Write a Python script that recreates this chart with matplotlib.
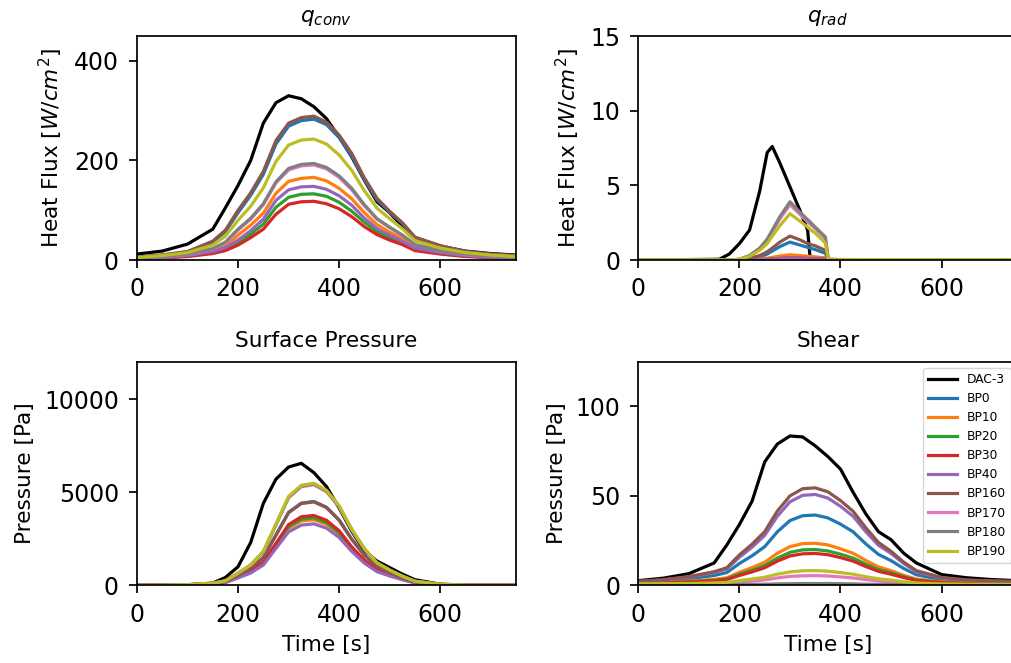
import numpy as np
import matplotlib
matplotlib.use("Agg")
from matplotlib import pyplot as plt

# time grid shared by q_conv, pressure and shear
time = [0, 50, 100, 150, 175, 200, 225, 250, 275, 300, 325, 350,
        375, 400, 425, 450, 475, 500, 525, 550, 600, 650, 700, 750]
# q_rad has sharp cut-offs, so it gets its own grid
time_rad = [0, 160, 180, 200, 220, 240, 255, 265, 280, 300, 320, 335,
            340, 350, 370, 376, 400, 750]

names = ["DAC-3", "BP0", "BP10", "BP20", "BP30", "BP40",
         "BP160", "BP170", "BP180", "BP190"]

# convective heat flux [W/cm^2]
q_conv = {
    "DAC-3": [12, 18, 32, 62, 105, 150, 200, 275, 316, 330, 324, 308,
              284, 247, 207, 160, 117, 95, 68, 45, 28, 18, 13, 10],
    "BP0": [6, 10, 17, 36, 57, 95, 130, 172, 233, 269, 280, 283,
            272, 246, 209, 161, 121, 96, 74, 45, 28, 17, 11, 8],
    "BP10": [3, 6, 10, 19, 28, 50, 70, 94, 134, 158, 164, 166,
             159, 144, 123, 95, 71, 56, 43, 27, 17, 10, 7, 5],
    "BP20": [3, 5, 8, 15, 22, 34, 52, 72, 106, 126, 132, 133,
             128, 116, 98, 76, 57, 45, 35, 21, 13, 8, 5, 4],
    "BP30": [2, 4, 7, 13, 19, 30, 45, 62, 92, 112, 117, 118,
             113, 103, 87, 67, 51, 40, 31, 19, 12, 7, 5, 4],
    "BP40": [3, 5, 9, 17, 25, 40, 59, 82, 120, 141, 147, 148,
             142, 129, 110, 84, 63, 50, 38, 24, 15, 9, 6, 4],
    "BP160": [6, 10, 17, 38, 60, 100, 135, 178, 240, 275, 286, 289,
              277, 251, 214, 165, 124, 98, 75, 46, 29, 17, 12, 9],
    "BP170": [4, 7, 11, 22, 35, 60, 82, 111, 155, 181, 189, 191,
              183, 166, 141, 109, 82, 65, 50, 31, 19, 11, 8, 6],
    "BP180": [4, 7, 12, 23, 36, 62, 84, 113, 157, 184, 192, 194,
              186, 169, 144, 111, 83, 66, 50, 31, 19, 12, 8, 6],
    "BP190": [5, 9, 15, 30, 48, 80, 108, 145, 198, 231, 241, 243,
              233, 211, 180, 139, 104, 83, 63, 39, 24, 15, 10, 7],
}

# radiative heat flux [W/cm^2]
q_rad = {
    "DAC-3": [0, 0.05, 0.4, 1.1, 2.0, 4.6, 7.2, 7.6, 6.5, 4.9, 3.3, 2.0,
              0.1, 0, 0, 0, 0, 0],
    "BP0": [0, 0, 0, 0.02, 0.08, 0.2, 0.4, 0.6, 0.9, 1.2, 1.0, 0.85,
            0.8, 0.7, 0.45, 0.02, 0.01, 0.01],
    "BP10": [0, 0, 0, 0.01, 0.03, 0.06, 0.12, 0.18, 0.27, 0.35, 0.3, 0.25,
             0.24, 0.21, 0.15, 0.01, 0, 0],
    "BP20": [0, 0, 0, 0, 0.01, 0.02, 0.03, 0.05, 0.08, 0.1, 0.09, 0.08,
             0.07, 0.06, 0.05, 0, 0, 0],
    "BP30": [0, 0, 0, 0, 0.01, 0.03, 0.05, 0.08, 0.11, 0.15, 0.13, 0.11,
             0.1, 0.09, 0.07, 0, 0, 0],
    "BP40": [0, 0, 0, 0, 0.01, 0.02, 0.04, 0.06, 0.09, 0.12, 0.1, 0.09,
             0.08, 0.07, 0.06, 0, 0, 0],
    "BP160": [0, 0, 0, 0.02, 0.12, 0.3, 0.55, 0.8, 1.2, 1.6, 1.35, 1.1,
              1.05, 0.95, 0.65, 0.03, 0.02, 0.01],
    "BP170": [0, 0, 0, 0.05, 0.3, 0.75, 1.3, 1.9, 2.75, 3.7, 3.05, 2.55,
              2.4, 2.1, 1.45, 0.05, 0.03, 0.02],
    "BP180": [0, 0, 0, 0.05, 0.3, 0.8, 1.4, 2.0, 2.9, 3.9, 3.2, 2.7,
              2.55, 2.2, 1.55, 0.05, 0.03, 0.02],
    "BP190": [0, 0, 0, 0.05, 0.25, 0.65, 1.1, 1.6, 2.3, 3.1, 2.6, 2.2,
              2.05, 1.8, 1.15, 0.05, 0.03, 0.02],
}

# surface pressure [Pa]
pressure = {
    "DAC-3": [10, 15, 30, 120, 420, 1000, 2300, 4400, 5700, 6350, 6550, 6050,
              5300, 4150, 2900, 1850, 1300, 950, 600, 300, 60, 15, 5, 0],
    "BP0": [0, 0, 20, 90, 200, 540, 900, 1490, 2700, 3920, 4410, 4500,
            4190, 3510, 2480, 1620, 990, 680, 400, 180, 45, 0, 0, 0],
    "BP10": [0, 0, 18, 70, 160, 420, 700, 1160, 2110, 3060, 3450, 3520,
             3270, 2750, 1940, 1270, 770, 530, 320, 140, 35, 0, 0, 0],
    "BP20": [0, 0, 18, 72, 160, 430, 720, 1190, 2170, 3150, 3550, 3620,
             3370, 2820, 1990, 1300, 800, 540, 330, 145, 36, 0, 0, 0],
    "BP30": [0, 0, 20, 75, 170, 450, 750, 1240, 2250, 3260, 3680, 3750,
             3490, 2930, 2060, 1350, 830, 560, 340, 150, 40, 0, 0, 0],
    "BP40": [0, 0, 15, 66, 150, 400, 660, 1090, 1980, 2870, 3230, 3300,
             3070, 2570, 1820, 1190, 730, 500, 300, 130, 33, 0, 0, 0],
    "BP160": [0, 0, 20, 90, 200, 530, 890, 1480, 2690, 3900, 4390, 4480,
              4170, 3490, 2460, 1610, 990, 670, 400, 180, 45, 0, 0, 0],
    "BP170": [0, 0, 25, 100, 240, 640, 1080, 1780, 3240, 4700, 5290, 5400,
              5020, 4210, 2970, 1940, 1190, 810, 490, 220, 50, 0, 0, 0],
    "BP180": [0, 0, 30, 110, 240, 650, 1090, 1800, 3260, 4730, 5330, 5440,
              5060, 4240, 2990, 1960, 1200, 820, 490, 220, 50, 0, 0, 0],
    "BP190": [0, 0, 30, 110, 250, 660, 1100, 1810, 3290, 4770, 5370, 5480,
              5100, 4270, 3010, 1970, 1210, 820, 490, 220, 50, 0, 0, 0],
}

# wall shear [Pa]
shear = {
    "DAC-3": [2.6, 4.0, 6.5, 12.5, 22.5, 34, 47, 69, 79, 83.5, 83, 78,
              72, 65, 52, 40, 30, 25.5, 18, 12.5, 6, 4.2, 3.2, 2.6],
    "BP0": [2.0, 2.6, 3.6, 5.5, 7.1, 12.2, 16.5, 21.6, 29.9, 36.2, 38.9, 39.3,
            37.7, 34.2, 29.9, 23.2, 17.3, 13.8, 9.4, 5.9, 3.1, 2.2, 1.8, 1.6],
    "BP10": [1.5, 1.8, 2.3, 3.3, 4.2, 7.3, 9.9, 12.9, 17.9, 21.6, 23.3, 23.5,
             22.6, 20.4, 17.9, 13.9, 10.3, 8.2, 5.6, 3.5, 1.9, 1.4, 1.2, 1.1],
    "BP20": [1.4, 1.6, 2.0, 2.8, 3.6, 6.2, 8.4, 11, 15.2, 18.4, 19.8, 20,
             19.2, 17.4, 15.2, 11.8, 8.8, 7.0, 4.8, 3.0, 1.6, 1.2, 1.0, 0.9],
    "BP30": [1.3, 1.5, 1.8, 2.5, 3.2, 5.5, 7.5, 9.8, 13.5, 16.4, 17.6, 17.8,
             17.1, 15.5, 13.5, 10.5, 7.8, 6.2, 4.3, 2.7, 1.5, 1.1, 0.9, 0.8],
    "BP40": [2.1, 3.0, 4.6, 7.1, 9.1, 15.7, 21.3, 27.9, 38.6, 46.7, 50.3, 50.8,
             48.8, 44.2, 38.6, 30, 22.4, 17.8, 12.2, 7.6, 4.1, 2.8, 2.3, 2.0],
    "BP160": [2.2, 3.2, 4.9, 7.6, 9.8, 17, 23, 30, 41.5, 50, 54, 54.5,
              52.3, 47.4, 41.4, 32.2, 24, 19, 13, 8.2, 4.4, 3.0, 2.5, 2.2],
    "BP170": [0.6, 0.7, 0.8, 1.0, 1.1, 1.7, 2.3, 3.0, 4.1, 5.0, 5.3, 5.4,
              5.2, 4.7, 4.1, 3.2, 2.4, 1.9, 1.3, 0.9, 0.5, 0.4, 0.4, 0.3],
    "BP180": [0.2, 0.2, 0.2, 0.3, 0.3, 0.4, 0.5, 0.6, 0.8, 0.9, 1.0, 1.0,
              1.0, 0.9, 0.8, 0.6, 0.5, 0.4, 0.3, 0.2, 0.2, 0.1, 0.1, 0.1],
    "BP190": [0.8, 0.9, 1.0, 1.3, 1.6, 2.6, 3.5, 4.5, 6.2, 7.5, 8.1, 8.2,
              7.9, 7.1, 6.2, 4.8, 3.6, 2.9, 2.0, 1.3, 0.8, 0.6, 0.5, 0.5],
}

plt.rcParams["font.size"] = 15.6
plt.rcParams["axes.titlesize"] = 15.6
plt.rcParams["axes.labelsize"] = 15.6
plt.rcParams["xtick.labelsize"] = 17
plt.rcParams["ytick.labelsize"] = 17
plt.rcParams["axes.linewidth"] = 1.25
plt.rcParams["axes.titlepad"] = 10.3
plt.rcParams["axes.labelpad"] = 6.2
plt.rcParams["xtick.major.width"] = 1.25
plt.rcParams["ytick.major.width"] = 1.25
plt.rcParams["xtick.major.size"] = 5.5
plt.rcParams["ytick.major.size"] = 5.5
plt.rcParams["xtick.major.pad"] = 7.0
plt.rcParams["ytick.major.pad"] = 7.5

fig = plt.figure(figsize=(10.11, 6.63), dpi=100)
w, h = 0.3749, 0.3379
ax_conv = fig.add_axes([0.1355, 0.6078, w, h])
ax_rad = fig.add_axes([0.6314, 0.6078, w, h])
ax_p = fig.add_axes([0.1355, 0.1172, w, 0.3371])
ax_s = fig.add_axes([0.6314, 0.1172, w, 0.3371])

panels = [
    (ax_conv, time, q_conv, r"$q_{conv}$", r"Heat Flux $[W/cm^2]$", 450),
    (ax_rad, time_rad, q_rad, r"$q_{rad}$", r"Heat Flux $[W/cm^2]$", 15),
    (ax_p, time, pressure, "Surface Pressure", "Pressure [Pa]", 12000),
    (ax_s, time, shear, "Shear", "Pressure [Pa]", 125),
]

for ax, t, data, title, ylabel, ymax in panels:
    for i, name in enumerate(names):
        color = "k" if name == "DAC-3" else f"C{i - 1}"
        ax.plot(t, data[name], color=color, lw=2.3, label=name)
    ax.set_title(title)
    ax.set_ylabel(ylabel)
    ax.set_xlim(0, 750)
    ax.set_ylim(0, ymax)
    ax.set_xticks([0, 200, 400, 600])

ax_conv.set_yticks([0, 200, 400])
ax_rad.set_yticks([0, 5, 10, 15])
ax_p.set_yticks([0, 5000, 10000])
ax_s.set_yticks([0, 50, 100])
ax_p.set_xlabel("Time [s]")
ax_s.set_xlabel("Time [s]")

ax_s.legend(loc="upper right", fontsize=8.8, handlelength=2.4)

fig.savefig("out.png", dpi=100)
